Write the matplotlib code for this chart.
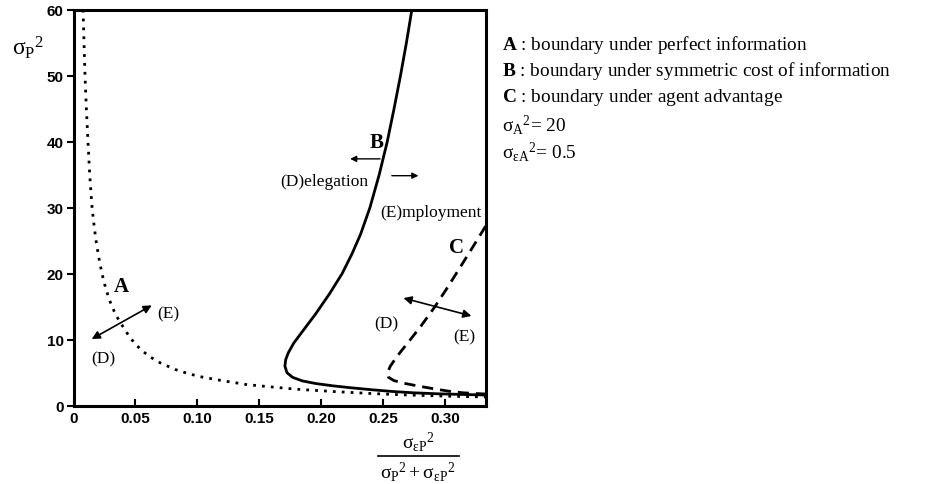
import numpy as np
import matplotlib
matplotlib.use("Agg")
import matplotlib.pyplot as plt

plt.rcParams['mathtext.fontset'] = 'custom'
plt.rcParams['mathtext.rm'] = 'Liberation Serif'
plt.rcParams['mathtext.it'] = 'Liberation Serif:italic'
plt.rcParams['mathtext.bf'] = 'Liberation Serif:bold'

# boundary A: perfect information (dotted)
a_x = [0.0077, 0.0085, 0.0093, 0.0104, 0.0117, 0.0131, 0.0150, 0.0165, 0.0182,
       0.0205, 0.0230, 0.0260, 0.0295, 0.0340, 0.0392, 0.0450, 0.0497, 0.0550,
       0.0618, 0.0700, 0.0820, 0.0920, 0.1023, 0.1200, 0.1400, 0.1564, 0.1800,
       0.2098, 0.2400, 0.2700, 0.3000, 0.3330]
a_y = [60.0, 55.0, 50.0, 45.0, 40.0, 35.0, 30.0, 27.5, 25.0,
       22.4, 20.0, 17.8, 15.8, 13.8, 12.2, 10.5, 9.4, 8.4,
       7.4, 6.5, 5.5, 4.9, 4.4, 3.8, 3.2, 2.9, 2.5,
       2.15, 1.85, 1.62, 1.45, 1.32]

# boundary B: symmetric cost of information (solid)
b_x = [0.2734, 0.2690, 0.2642, 0.2590, 0.2535, 0.2470, 0.2395, 0.2320, 0.2250,
       0.2170, 0.2070, 0.1960, 0.1860, 0.1780, 0.1735, 0.1715, 0.1708, 0.1725,
       0.1770, 0.1850, 0.1960, 0.2100, 0.2250, 0.2420, 0.2580, 0.2750, 0.2950,
       0.3150, 0.3330]
b_y = [60.0, 55.0, 50.0, 45.0, 40.0, 35.0, 30.0, 26.0, 23.0,
       20.0, 17.0, 14.0, 11.5, 9.5, 8.0, 7.0, 6.0, 5.0,
       4.3, 3.75, 3.35, 3.0, 2.7, 2.4, 2.15, 1.95, 1.8,
       1.7, 1.62]

# boundary C: agent advantage (dashed)
c_x = [0.3330, 0.3225, 0.3125, 0.3025, 0.2920, 0.2805, 0.2700, 0.2615, 0.2560,
       0.2537, 0.2545, 0.2590, 0.2670, 0.2780, 0.2900, 0.3030, 0.3150, 0.3330]
c_y = [27.2, 24.0, 21.0, 18.0, 15.0, 12.0, 9.5, 7.5, 6.0,
       5.0, 4.3, 3.8, 3.4, 3.0, 2.6, 2.2, 1.95, 1.77]

xticks = [0, 0.05, 0.10, 0.15, 0.20, 0.25, 0.30]
xticklabels = ['0', '0.05', '0.10', '0.15', '0.20', '0.25', '0.30']
yticks = [0, 10, 20, 30, 40, 50, 60]

legend_lines = [r'$\mathbf{A}$ : boundary under perfect information',
                r'$\mathbf{B}$ : boundary under symmetric cost of information',
                r'$\mathbf{C}$ : boundary under agent advantage']
param_lines = [r'$\mathrm{\sigma_{A}}^{2}$= 20', r'$\mathrm{\sigma_{\varepsilon A}}^{2}$= 0.5']

W, H = 941, 485
fig = plt.figure(figsize=(W / 100, H / 100), dpi=100)
ax = fig.add_axes([73.5 / W, 1 - 406.7 / H, (486 - 73.5) / W, (406.7 - 10.7) / H])

ax.plot(a_x, a_y, color='black', linestyle=(0, (1, 2.2)), linewidth=2.0)
ax.plot(b_x, b_y, color='black', linestyle='-', linewidth=2.0)
ax.plot(c_x, c_y, color='black', linestyle=(0, (4, 2.5)), linewidth=2.0)

ax.set_xlim(0, 0.3333)
ax.set_ylim(0, 60)
ax.set_xticks(xticks)
ax.set_xticklabels(xticklabels)
ax.set_yticks(yticks)
for lab in ax.get_xticklabels() + ax.get_yticklabels():
    lab.set_fontfamily('Liberation Sans')
    lab.set_fontweight('bold')
    lab.set_fontsize(11)
ax.tick_params(axis='x', direction='in', length=5, width=1.5, pad=4)
ax.tick_params(axis='y', direction='out', length=5, width=1.5, pad=2)
for s in ax.spines.values():
    s.set_linewidth(2.2)

serif = 'Liberation Serif'
# labels on curves
ax.text(0.039, 18.2, 'A', fontfamily=serif, fontweight='bold', fontsize=15, ha='center', va='center')
ax.text(0.245, 40.0, 'B', fontfamily=serif, fontweight='bold', fontsize=15, ha='center', va='center')
ax.text(0.3095, 24.0, 'C', fontfamily=serif, fontweight='bold', fontsize=15, ha='center', va='center')

arr = dict(arrowstyle='<|-|>', color='black', lw=1.2, mutation_scale=12, shrinkA=0, shrinkB=0)
ax.annotate('', xy=(0.0147, 10.1), xytext=(0.0632, 15.2), arrowprops=arr)
ax.annotate('', xy=(0.2666, 16.3), xytext=(0.3215, 13.6), arrowprops=arr)
one = dict(arrowstyle='-|>', color='black', lw=1.0, mutation_scale=9, shrinkA=0, shrinkB=0)
ax.annotate('', xy=(0.2235, 37.4), xytext=(0.2477, 37.4), arrowprops=one)
ax.annotate('', xy=(0.2787, 34.85), xytext=(0.2572, 34.85), arrowprops=one)

tk = dict(fontfamily=serif, fontsize=12.5, va='center')
ax.text(0.0765, 14.0, '(E)', ha='center', **tk)
ax.text(0.024, 7.1, '(D)', ha='center', **tk)
ax.text(0.2385, 34.0, '(D)elegation', ha='right', **tk)
ax.text(0.2475, 29.3, '(E)mployment', ha='left', **tk)
ax.text(0.2526, 12.5, '(D)', ha='center', **tk)
ax.text(0.3157, 10.5, '(E)', ha='center', **tk)

# y label
fig.text(28 / W, 1 - 48 / H, r'$\mathrm{\sigma_{P}}^{2}$', fontsize=17, ha='center', va='center')

# x label as a fraction
fig.text(418 / W, 1 - 442 / H, r'$\mathrm{\sigma_{\varepsilon P}}^{2}$', fontsize=14, ha='center', va='center')
fig.add_artist(plt.Line2D([378 / W, 459 / W], [1 - 457 / H, 1 - 457 / H], color='black', lw=1.2))
fig.text(418 / W, 1 - 472 / H, r'$\mathrm{\sigma_{P}}^{2} + \mathrm{\sigma_{\varepsilon P}}^{2}$',
         fontsize=14, ha='center', va='center')

# legend text
for i, t in enumerate(legend_lines):
    fig.text(502 / W, 1 - (45 + 26.5 * i) / H, t, fontfamily=serif, fontsize=13.9, va='center')
for i, t in enumerate(param_lines):
    fig.text(502 / W, 1 - (125 + 27 * i) / H, t, fontfamily=serif, fontsize=13.9, va='center')

fig.savefig('out.png', dpi=100)
